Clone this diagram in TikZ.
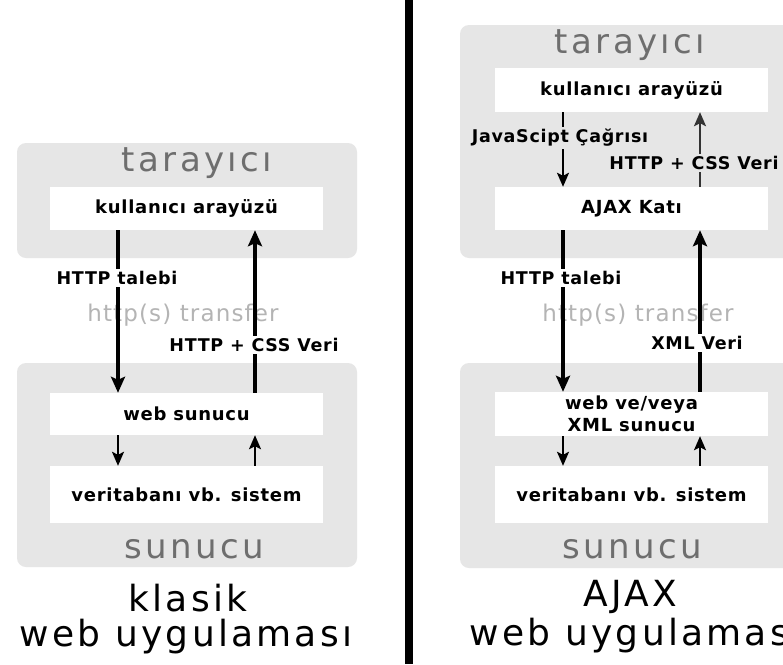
\documentclass[tikz,border=0pt]{standalone}
\usepackage{fontspec}
\setmainfont{DejaVu Sans}
\newfontfamily\lblfont[LetterSpace=4]{DejaVu Sans}
\newfontfamily\ttlfont[LetterSpace=10]{DejaVu Sans}
\newfontfamily\capfont[LetterSpace=9]{DejaVu Sans}
\newfontfamily\trfont[LetterSpace=5]{DejaVu Sans}
\usetikzlibrary{arrows.meta}
\definecolor{boxgrey}{HTML}{E6E6E6}
\definecolor{ttlgrey}{HTML}{6E6E6E}
\definecolor{trgrey}{HTML}{B4B4B4}
\tikzset{
  gbox/.style={fill=boxgrey, rounded corners=9pt, inner sep=0pt},
  wbox/.style={fill=white, inner sep=0pt, align=center,
    font=\lblfont\bfseries\fontsize{18}{22}\selectfont},
  ttl/.style={text=ttlgrey, inner sep=0pt, font=\ttlfont\fontsize{34}{36}\selectfont},
  capt/.style={text=black, inner sep=0pt, font=\capfont\fontsize{36}{38}\selectfont},
  trtext/.style={text=trgrey, inner sep=0pt, font=\trfont\fontsize{23}{26}\selectfont},
  lbl/.style={fill=white, inner xsep=2pt, inner ysep=2pt,
    font=\lblfont\bfseries\fontsize{17.5}{20}\selectfont},
  glbl/.style={lbl, fill=boxgrey},
  bigarrow/.style={line width=3.5pt, -{Stealth[length=16pt,width=14pt,inset=3pt]}},
  smallarrow/.style={line width=2pt, -{Stealth[length=14pt,width=12pt,inset=3pt]}},
}
\begin{document}
\begin{tikzpicture}[x=1pt,y=-1pt]
\useasboundingbox (0,0) rectangle (783,664);
\clip (0,0) rectangle (783,664);
\fill[white] (0,0) rectangle (783,664);

% ---------------- left: klasik ----------------
\node[gbox, minimum width=340pt, minimum height=115pt] (brL) at (187,200.5) {};
\node[gbox, minimum width=340pt, minimum height=204pt] (svL) at (187,465) {};
\node[ttl] (tarL) at (197,163) {tarayıcı};
\node[wbox, minimum width=273pt, minimum height=43pt] (uiL) at (186.5,208.5) {kullanıcı arayüzü};
\node[wbox, minimum width=273pt, minimum height=42pt] (webL) at (186.5,414) {web sunucu};
\node[wbox, minimum width=273pt, minimum height=57pt] (dbL) at (186.5,494.5) {veritabanı vb. sistem};
\node[ttl] (sunL) at (194,549) {sunucu};
\node[trtext] (trL) at (183,315) {http(s) transfer};
\node[capt] (capL1) at (188,598) {klasik};
\node[capt] (capL2) at (186,637) {web uygulaması};

\coordinate (cL1) at (118,0);
\coordinate (cL2) at (255,0);
\draw[bigarrow] (uiL.south -| cL1) -- (webL.north -| cL1);
\draw[bigarrow] (webL.north -| cL2) -- (uiL.south -| cL2);
\draw[smallarrow] (webL.south -| cL1) -- (dbL.north -| cL1);
\draw[smallarrow] (dbL.north -| cL2) -- (webL.south -| cL2);
\node[lbl] (httpL) at (117,278) {HTTP talebi};
\node[lbl] (cssL) at (254,345) {HTTP + CSS Veri};

% ---------------- divider ----------------
\coordinate (dvTop) at (409,0);
\coordinate (dvBot) at (409,664);
\draw[line width=8pt, black] (dvTop) -- (dvBot);

% ---------------- right: AJAX ----------------
\node[gbox, minimum width=342pt, minimum height=233pt] (brR) at (631,141.5) {};
\node[gbox, minimum width=342pt, minimum height=205pt] (svR) at (631,465.5) {};
\node[ttl] (tarR) at (630,45) {tarayıcı};
\node[wbox, minimum width=273pt, minimum height=44pt] (uiR) at (631.5,90) {kullanıcı arayüzü};
\node[wbox, minimum width=273pt, minimum height=43pt] (ajR) at (631.5,208.5) {AJAX Katı};
\node[wbox, minimum width=273pt, minimum height=44pt] (webR) at (631.5,414) {web ve/veya\\XML sunucu};
\node[wbox, minimum width=273pt, minimum height=57pt] (dbR) at (631.5,494.5) {veritabanı vb. sistem};
\node[ttl] (sunR) at (632,549) {sunucu};
\node[trtext] (trR) at (638,315) {http(s) transfer};
\node[capt] (capR1) at (630,597) {AJAX};
\node[capt] (capR2) at (636,636) {web uygulaması};

\coordinate (cR1) at (563,0);
\coordinate (cR2) at (700,0);
\draw[smallarrow] (uiR.south -| cR1) -- (ajR.north -| cR1);
\draw[smallarrow, draw=black!80] (ajR.north -| cR2) -- (uiR.south -| cR2);
\draw[bigarrow] (ajR.south -| cR1) -- (webR.north -| cR1);
\draw[bigarrow] (webR.north -| cR2) -- (ajR.south -| cR2);
\draw[smallarrow] (webR.south -| cR1) -- (dbR.north -| cR1);
\draw[smallarrow] (dbR.north -| cR2) -- (webR.south -| cR2);
\node[glbl] (jsR) at (560,138) {JavaScipt Çağrısı};
\node[glbl] (cssR) at (694,163) {HTTP + CSS Veri};
\node[lbl] (httpR) at (561,278) {HTTP talebi};
\node[lbl] (xmlR) at (697,343) {XML Veri};
\end{tikzpicture}
\end{document}
